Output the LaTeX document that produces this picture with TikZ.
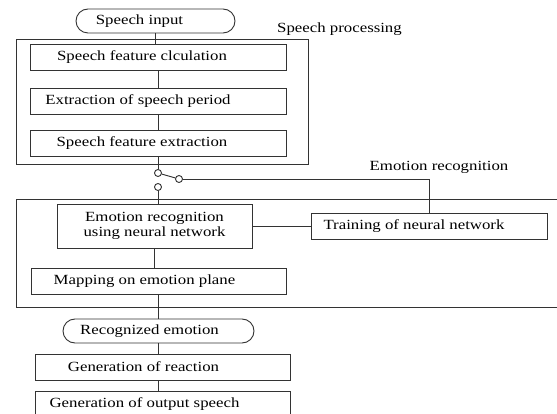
\documentclass[tikz,border=0pt]{standalone}
\usepackage{fontspec}
\setmainfont{Liberation Serif}
\usepackage{graphicx}
\usetikzlibrary{positioning}
\newcommand{\wt}[1]{\scalebox{1.2}[1]{#1}}

\tikzset{
  line/.style={draw=black!80, line width=0.9pt},
  stage/.style={line, minimum height=26pt, inner sep=0pt},
  term/.style={stage, rounded corners=12pt, minimum height=24pt},
  pin/.style={line, circle, minimum size=7pt, inner sep=0pt, fill=white},
}

\begin{document}
\begin{tikzpicture}[x=1pt, y=-1pt, font=\fontsize{14}{15}\selectfont]
  \clip (0,0) rectangle (557,414);

  % Speech processing block
  \draw[line] (16,39) rectangle (308,164);
  \node (proclbl) at (339.5,29) {\wt{Speech processing}};
  \node[term, minimum width=159pt, label={[xshift=-16pt]center:\wt{Speech input}}]
    (input) at (155.5,21) {};
  \node[stage, minimum width=256pt, label={[xshift=-16pt]center:\wt{Speech feature clculation}}]
    (calc) at (158,57.5) {};
  \node[stage, minimum width=256pt, label={[xshift=-20pt]center:\wt{Extraction of speech period}}]
    (period) at (158,101) {};
  \node[stage, minimum width=256pt, label={[xshift=-16pt]center:\wt{Speech feature extraction}}]
    (feat) at (158,143) {};

  % Switch
  \node[pin] (sw1) at (158,173) {};
  \node[pin] (sw2) at (179,179) {};
  \node[pin] (sw3) at (158,187) {};

  % Emotion recognition block
  \draw[line] (16,199) rectangle (575,307);
  \node (emolbl) at (439,167) {\wt{Emotion recognition}};
  \node[stage, minimum width=195pt, minimum height=44pt, align=center]
    (nn) at (154.5,226) {\wt{Emotion recognition}\\\wt{using neural network}};
  \node[stage, minimum width=236pt, label={[xshift=-15pt]center:\wt{Training of neural network}}]
    (train) at (429,226) {};
  \node[stage, minimum width=255pt, label={[xshift=-14pt]center:\wt{Mapping on emotion plane}}]
    (map) at (158.5,281) {};

  % Output side
  \node[term, minimum width=191pt, label={[xshift=-9pt]center:\wt{Recognized emotion}}]
    (recog) at (158.5,331) {};
  \node[stage, minimum width=255pt, label={[xshift=-19pt]center:\wt{Generation of reaction}}]
    (react) at (162.5,367) {};
  \node[stage, minimum width=255pt, label={[xshift=-18pt]center:\wt{Generation of output speech}}]
    (outsp) at (162.5,404) {};

  % Connectors
  \draw[line] (input.south) -- (input.south |- calc.north);
  \draw[line] (calc.south) -- (calc.south |- period.north);
  \draw[line] (period.south) -- (period.south |- feat.north);
  \draw[line] (feat.south) -- (feat.south |- sw1.north);
  \draw[line] (sw1) -- (sw2);
  \draw[line] (sw2.east) -| (train.north);
  \draw[line] (sw3.south) -- (sw3.south |- nn.north);
  \draw[line] (nn.east) -- (train.west);
  \draw[line] (nn.south) -- (nn.south |- map.north);
  \draw[line] (map.south) -- (map.south |- recog.north);
  \draw[line] (recog.south) -- (recog.south |- react.north);
  \draw[line] (recog.south |- react.south) -- (recog.south |- outsp.north);
\end{tikzpicture}
\end{document}
